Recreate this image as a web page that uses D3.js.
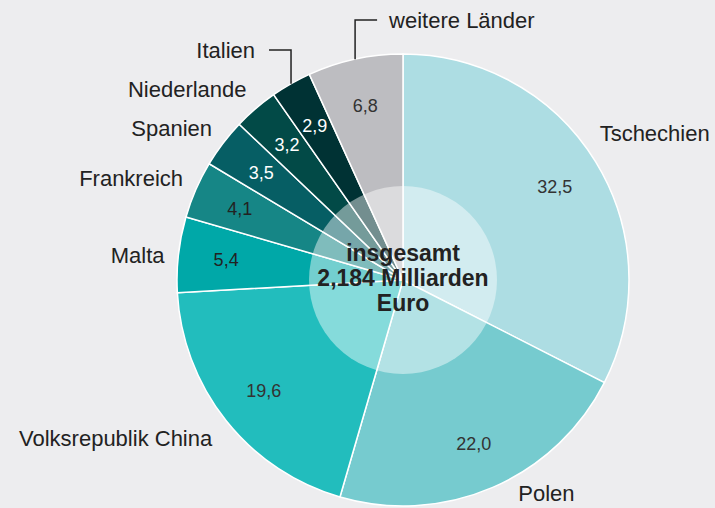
<!DOCTYPE html>
<html lang="de">
<head>
  <meta charset="UTF-8">
  <title>Länderanteile</title>
  <script src="https://d3js.org/d3.v7.min.js"></script>
  <style>
    body { margin: 0; background: #ededef; }
    svg { display: block; font-family: "Liberation Sans", Arial, sans-serif; }
  </style>
</head>
<body>
  <svg width="715" height="508"></svg>
<script>
  // Anteile in Prozent, im Uhrzeigersinn ab 12 Uhr
  const countries = ["Tschechien", "Polen", "Volksrepublik China", "Malta", "Frankreich",
                     "Spanien", "Niederlande", "Italien", "weitere Länder"];
  const shares = [32.5, 22.0, 19.6, 5.4, 4.1, 3.5, 3.2, 2.9, 6.8];
  const colors = ["#addde3", "#76cbcf", "#22bdbd", "#00a8a8", "#168686",
                  "#065e64", "#024a47", "#003234", "#bdbdc1"];
  const valueColors = ["#333", "#333", "#333", "#222", "#222", "#fff", "#fff", "#fff", "#333"];
  const totalLines = ["insgesamt", "2,184 Milliarden", "Euro"];

  const svg = d3.select("svg");
  const cx = 403, cy = 280, radius = 226, innerR = 94;

  const g = svg.append("g").attr("transform", "translate(" + cx + "," + cy + ")");

  const pie = d3.pie().sort(null).value(d => d)(shares);
  const arc = d3.arc().innerRadius(0).outerRadius(radius);
  const valueArc = d3.arc().innerRadius(178).outerRadius(178);

  /**
   * Segmente
   */
  g.append("g")
    .selectAll("path")
    .data(pie)
    .enter()
    .append("path")
    .attr("d", arc)
    .attr("fill", (d, i) => colors[i])
    .attr("stroke", "#fff")
    .attr("stroke-width", 1.5);

  // halbtransparenter Innenkreis
  g.append("circle")
    .attr("r", innerR)
    .attr("fill", "#fff")
    .attr("fill-opacity", 0.45);

  /**
   * Werte
   */
  g.append("g")
    .selectAll("text")
    .data(pie)
    .enter()
    .append("text")
    .attr("transform", d => "translate(" + valueArc.centroid(d) + ")")
    .attr("text-anchor", "middle")
    .attr("dy", "0.35em")
    .attr("font-size", "18px")
    .attr("fill", (d, i) => valueColors[i])
    .text(d => d3.format(".1f")(d.data).replace(".", ","));

  /**
   * Beschriftungen
   */
  const mid = d => (d.startAngle + d.endAngle) / 2;
  const labelR = 240;
  // kleine Korrekturen je Beschriftung [dx, dy]
  const nudge = [[-8, -21], [20, -7], [-3, 9], [0, 2], [0, -6], [0, -6], [0, -9], [0, 0], [0, 0]];
  const leader = { 7: { y: -230, len: -22 }, 8: { y: -260, len: 22 } };

  const labels = g.append("g").attr("font-size", "22px").attr("fill", "#222");

  pie.forEach((d, i) => {
    const a = mid(d);
    if (leader[i]) {
      const L = leader[i];
      const x0 = Math.sin(a) * radius, y0 = -Math.cos(a) * radius;
      labels.append("path")
        .attr("d", "M" + x0 + "," + y0 + "V" + L.y + "h" + L.len)
        .attr("fill", "none")
        .attr("stroke", "#222")
        .attr("stroke-width", 1.5);
      labels.append("text")
        .attr("x", x0 + L.len + (L.len < 0 ? -14 : 12))
        .attr("y", L.y)
        .attr("dy", "0.35em")
        .attr("text-anchor", L.len < 0 ? "end" : "start")
        .text(countries[i]);
    } else {
      const x = Math.sin(a) * labelR + nudge[i][0];
      const y = -Math.cos(a) * labelR + nudge[i][1];
      labels.append("text")
        .attr("x", x)
        .attr("y", y)
        .attr("dy", "0.35em")
        .attr("text-anchor", Math.sin(a) < 0 ? "end" : "start")
        .text(countries[i]);
    }
  });

  // Summe in der Mitte
  g.append("text")
    .attr("text-anchor", "middle")
    .attr("font-size", "23px")
    .attr("font-weight", "bold")
    .attr("fill", "#222")
    .selectAll("tspan")
    .data(totalLines)
    .enter()
    .append("tspan")
    .attr("x", 0)
    .attr("y", (d, i) => -27 + i * 25)
    .attr("dy", "0.35em")
    .text(d => d);
</script>
</body>
</html>
